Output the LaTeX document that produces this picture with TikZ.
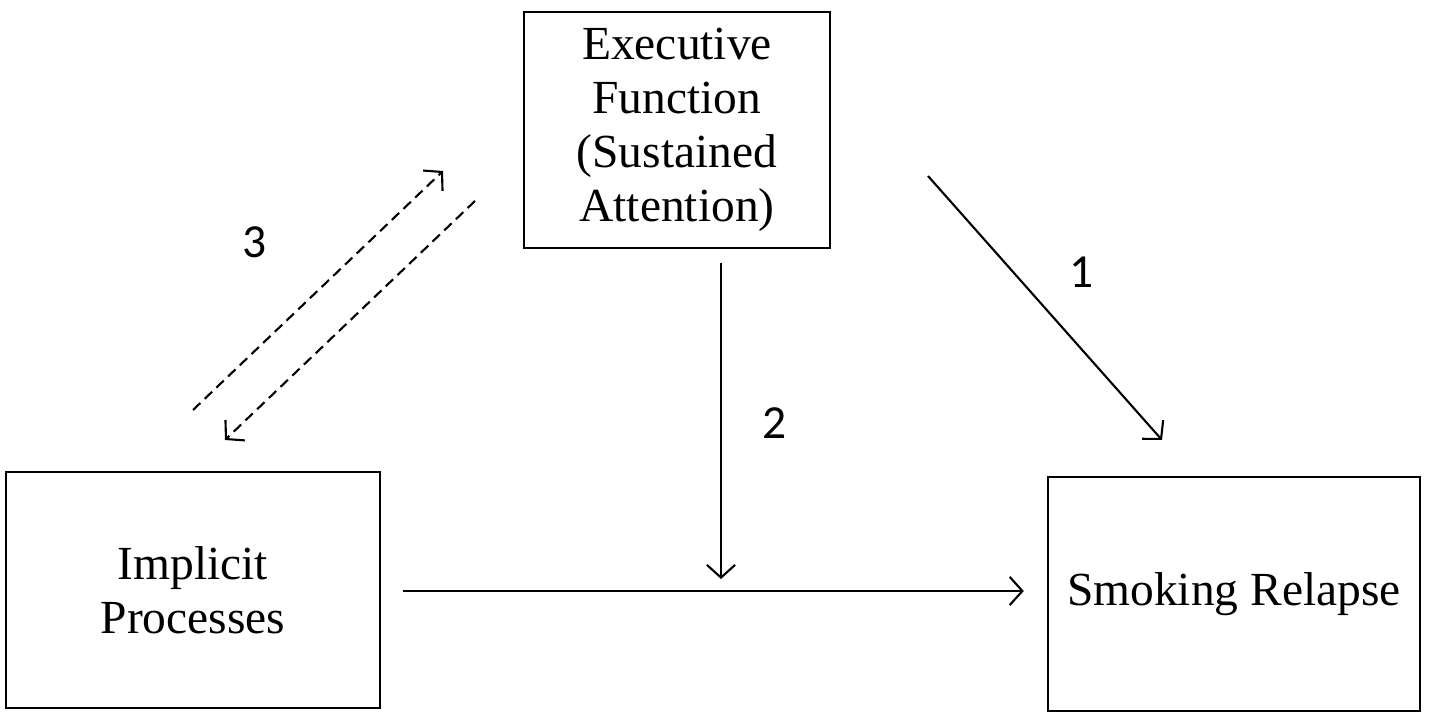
\documentclass[tikz,border=0pt]{standalone}
\usepackage{fontspec}
\setmainfont{Liberation Serif}
\newfontfamily\numfont{Carlito}
\usetikzlibrary{arrows.meta}

\tikzset{
  box/.style={draw, line width=0.6pt, align=center, inner sep=0pt,
    font=\fontsize{13.5}{15.3}\selectfont},
  arr/.style={line width=0.6pt, -{Straight Barb[length=3.6pt,width=8pt]}},
  dasharr/.style={arr, dash pattern=on 2.9pt off 1.7pt},
  num/.style={font=\numfont\fontsize{13.5}{16}\selectfont}
}

\begin{document}
\begin{tikzpicture}[x=0.01cm,y=-0.01cm]
\useasboundingbox (0,0) rectangle (1429,713);

% the three boxes
\node [box, minimum width=3.05cm, minimum height=2.35cm] (exec) at (677,130)
  {Executive\\Function\\(Sustained\\Attention)};
\node [box, minimum width=3.73cm, minimum height=2.36cm] (impl) at (193,590)
  {Implicit\\Processes};
\node [box, minimum width=3.72cm, minimum height=2.34cm] (relapse) at (1234,594)
  {Smoking Relapse};

% free ends of the arrows
\coordinate (modtop) at (721,263);
\coordinate (modend) at (721,579);
\coordinate (ones) at (928,176);
\coordinate (onee) at (1162,440);
\coordinate (ups) at (193,410);
\coordinate (upe) at (443,171);
\coordinate (downs) at (475,201);
\coordinate (downe) at (225,440);

\draw [arr, shorten <=0.22cm, shorten >=0.23cm] (impl.east |- 0,591) -- (relapse.west |- 0,591);
\draw [arr] (modtop) -- (modend);
\draw [arr] (ones) -- (onee);
\draw [dasharr] (ups) -- (upe);
\draw [dasharr] (downs) -- (downe);

\node [num] (lblthree) at (255,242) {3};
\node [num] (lblone) at (1082,272) {1};
\node [num] (lbltwo) at (775,423) {2};

\end{tikzpicture}
\end{document}
